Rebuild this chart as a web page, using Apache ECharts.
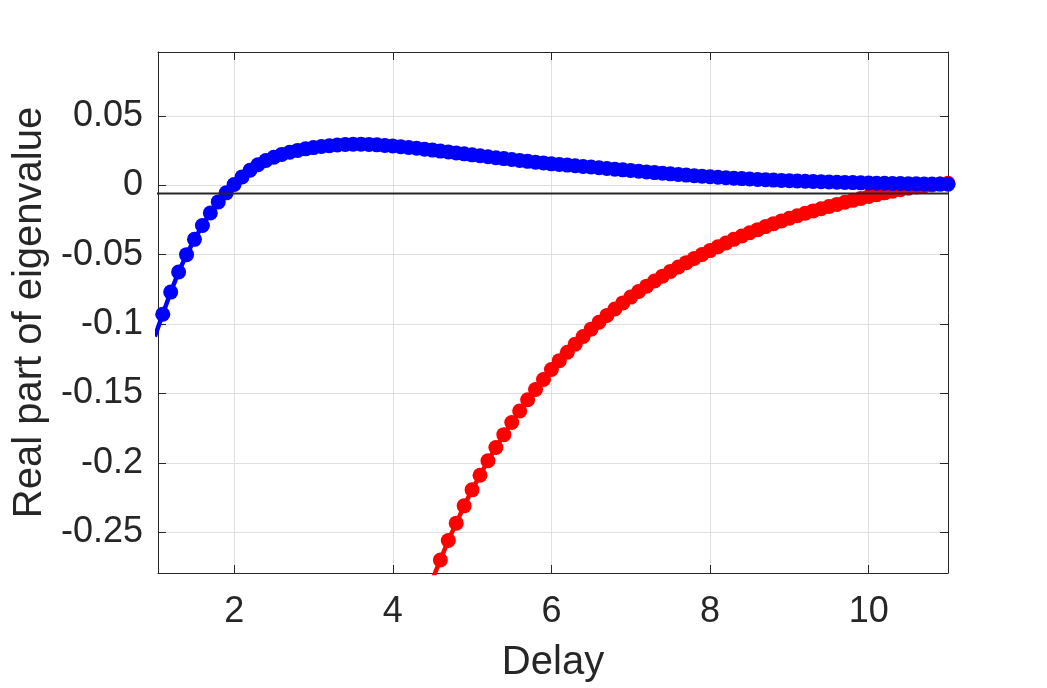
<!DOCTYPE html>
<html>
<head>
<meta charset="utf-8">
<script src="https://cdn.jsdelivr.net/npm/echarts@6/dist/echarts.min.js"></script>
<style>
html,body{margin:0;padding:0;background:#fff;}
#chart{width:1047px;height:688px;}
</style>
</head>
<body>
<div id="chart"></div>
<script>
// Delay values for the blue branch (1.0 .. 11.0, step 0.1)
const delayBlue = [
 1.0,1.1,1.2,1.3,1.4,1.5,1.6,1.7,1.8,1.9,
 2.0,2.1,2.2,2.3,2.4,2.5,2.6,2.7,2.8,2.9,
 3.0,3.1,3.2,3.3,3.4,3.5,3.6,3.7,3.8,3.9,
 4.0,4.1,4.2,4.3,4.4,4.5,4.6,4.7,4.8,4.9,
 5.0,5.1,5.2,5.3,5.4,5.5,5.6,5.7,5.8,5.9,
 6.0,6.1,6.2,6.3,6.4,6.5,6.6,6.7,6.8,6.9,
 7.0,7.1,7.2,7.3,7.4,7.5,7.6,7.7,7.8,7.9,
 8.0,8.1,8.2,8.3,8.4,8.5,8.6,8.7,8.8,8.9,
 9.0,9.1,9.2,9.3,9.4,9.5,9.6,9.7,9.8,9.9,
 10.0,10.1,10.2,10.3,10.4,10.5,10.6,10.7,10.8,10.9,
 11.0
];
const realBlue = [
 -0.109,-0.093,-0.077,-0.0625,-0.050,-0.039,-0.029,-0.020,-0.012,-0.0055,
 0.0005,0.0060,0.0108,0.0148,0.0178,0.0202,0.0222,0.0238,0.0251,0.0262,
 0.0271,0.0279,0.0285,0.0290,0.0293,0.0295,0.0295,0.0294,0.0291,0.0287,
 0.0283,0.0278,0.0272,0.0266,0.0260,0.0253,0.0246,0.0240,0.0233,0.0226,
 0.0219,0.0212,0.0205,0.0198,0.0192,0.0185,0.0179,0.0172,0.0166,0.0160,
 0.0154,0.0149,0.0145,0.0140,0.0135,0.0131,0.0126,0.0121,0.0116,0.0111,
 0.0106,0.0101,0.0096,0.0091,0.0087,0.0082,0.0077,0.0073,0.0069,0.0065,
 0.0061,0.0058,0.0054,0.0051,0.0048,0.0045,0.0042,0.0040,0.0037,0.0035,
 0.0033,0.0031,0.0029,0.0027,0.0025,0.0023,0.0022,0.0020,0.0019,0.0017,
 0.0016,0.0015,0.0014,0.0013,0.0012,0.0011,0.0010,0.0009,0.0009,0.0008,
 0.0007
];
// Delay values for the red branch (4.5 .. 11.0, step 0.1)
const delayRed = [
 4.5,4.6,4.7,4.8,4.9,
 5.0,5.1,5.2,5.3,5.4,5.5,5.6,5.7,5.8,5.9,
 6.0,6.1,6.2,6.3,6.4,6.5,6.6,6.7,6.8,6.9,
 7.0,7.1,7.2,7.3,7.4,7.5,7.6,7.7,7.8,7.9,
 8.0,8.1,8.2,8.3,8.4,8.5,8.6,8.7,8.8,8.9,
 9.0,9.1,9.2,9.3,9.4,9.5,9.6,9.7,9.8,9.9,
 10.0,10.1,10.2,10.3,10.4,10.5,10.6,10.7,10.8,10.9,
 11.0
];
const realRed = [
 -0.284,-0.270,-0.256,-0.2435,-0.231,
 -0.2195,-0.209,-0.1985,-0.189,-0.1797,-0.171,-0.1627,-0.1546,-0.1472,-0.140,
 -0.1328,-0.1264,-0.1203,-0.1145,-0.1090,-0.1037,-0.0987,-0.0938,-0.0892,-0.0848,
 -0.0806,-0.0766,-0.0727,-0.0690,-0.0655,-0.0621,-0.0589,-0.0558,-0.0528,-0.0499,
 -0.0471,-0.0443,-0.0416,-0.0390,-0.0366,-0.0342,-0.0320,-0.0298,-0.0277,-0.0257,
 -0.0238,-0.0220,-0.0202,-0.0185,-0.0169,-0.0153,-0.0138,-0.0123,-0.0109,-0.0095,
 -0.0081,-0.0068,-0.0055,-0.0043,-0.0032,-0.0022,-0.0013,-0.0005,0.0002,0.0008,
 0.0014
];
// Horizontal reference line
const refLineX = [0.78, 11];
const refLineY = [-0.006, -0.006];

const xRange = [1.04, 11];
const yRange = [-0.2794, 0.096];

const FONT = '"Liberation Sans", Arial, Helvetica, sans-serif';
const TXT = '#262626';

function zip(a, b) { return a.map((v, i) => [v, b[i]]); }

const chart = echarts.init(document.getElementById('chart'), null, {renderer: 'canvas'});

const axisCommon = {
  type: 'value',
  axisLine: {show: true, onZero: false, lineStyle: {color: TXT, width: 1}},
  axisTick: {show: true, inside: true, length: 8, lineStyle: {color: TXT, width: 1}},
};

chart.setOption({
  animation: false,
  backgroundColor: '#ffffff',
  grid: {left: 158, right: 99, top: 52, bottom: 114, containLabel: false},
  xAxis: [
    Object.assign({}, axisCommon, {
      position: 'bottom', min: xRange[0], max: xRange[1], splitNumber: 5,
      axisLabel: {fontSize: 36, color: TXT, fontFamily: FONT, margin: 21,
        showMinLabel: false, showMaxLabel: false},
      splitLine: {show: true, lineStyle: {color: '#dfdfdf', width: 1}},
      name: 'Delay', nameLocation: 'middle', nameGap: 70,
      nameTextStyle: {fontSize: 40, color: TXT, fontFamily: FONT}
    }),
    Object.assign({}, axisCommon, {
      position: 'top', min: xRange[0], max: xRange[1], splitNumber: 5,
      axisLabel: {show: false}, splitLine: {show: false}
    })
  ],
  yAxis: [
    Object.assign({}, axisCommon, {
      position: 'left', min: yRange[0], max: yRange[1], splitNumber: 7,
      axisLabel: {fontSize: 36, color: TXT, fontFamily: FONT, margin: 15,
        showMinLabel: false, showMaxLabel: false},
      splitLine: {show: true, lineStyle: {color: '#dfdfdf', width: 1}},
      name: 'Real part of eigenvalue', nameLocation: 'middle', nameGap: 104, nameRotate: 90,
      nameTextStyle: {fontSize: 40, color: TXT, fontFamily: FONT}
    }),
    Object.assign({}, axisCommon, {
      position: 'right', min: yRange[0], max: yRange[1], splitNumber: 7,
      axisLabel: {show: false}, splitLine: {show: false}
    })
  ],
  series: [
    {
      type: 'line', data: zip(delayRed, realRed), xAxisIndex: 0, yAxisIndex: 0,
      symbol: 'circle', symbolSize: 15, showAllSymbol: true, clip: true,
      itemStyle: {color: '#ff0000'}, lineStyle: {color: '#ff0000', width: 4.5},
      z: 2, silent: true
    },
    {
      type: 'line', data: zip(delayBlue, realBlue), xAxisIndex: 0, yAxisIndex: 0,
      symbol: 'circle', symbolSize: 15, showAllSymbol: true, clip: true,
      itemStyle: {color: '#0000ff'}, lineStyle: {color: '#0000ff', width: 4.5},
      z: 3, silent: true
    },
    {
      type: 'line', data: zip(refLineX, refLineY), xAxisIndex: 0, yAxisIndex: 0,
      symbol: 'none', clip: false,
      lineStyle: {color: '#262626', width: 2},
      z: 4, silent: true
    }
  ]
});
</script>
</body>
</html>
